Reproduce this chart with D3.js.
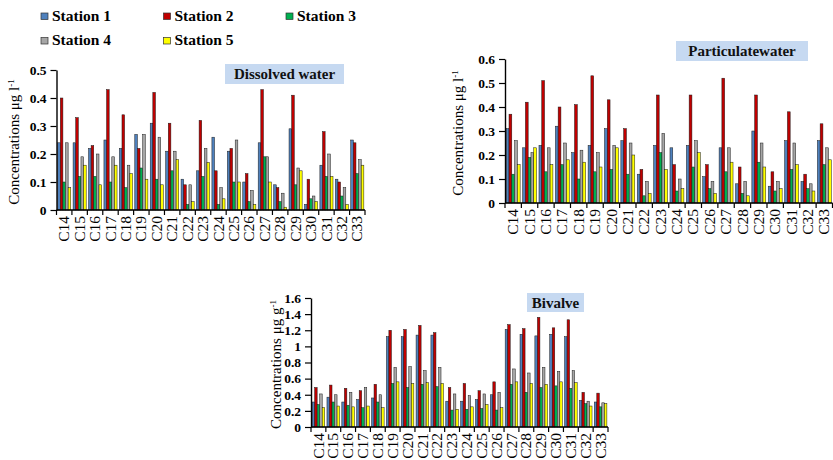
<!DOCTYPE html>
<html>
<head>
<meta charset="utf-8">
<script src="https://cdn.jsdelivr.net/npm/d3@7/dist/d3.min.js"></script>
<style>
  html, body { margin: 0; padding: 0; background: #fff; }
  svg { display: block; font-family: "Liberation Serif", "DejaVu Serif", serif; }
</style>
</head>
<body>
<svg id="chart" width="833" height="460"></svg>
<script>
// ---- data ----
const categories = ["C14","C15","C16","C17","C18","C19","C20","C21","C22","C23",
                    "C24","C25","C26","C27","C28","C29","C30","C31","C32","C33"];
const stations = ["Station 1","Station 2","Station 3","Station 4","Station 5"];

// Dissolved water, µg l-1 (one row per station)
const dissolved = [
  [0.24,0.24,0.22,0.25,0.22,0.27,0.31,0.21,0.11,0.14,0.26,0.21,0.10,0.24,0.09,0.29,0.02,0.16,0.11,0.25],
  [0.40,0.33,0.23,0.43,0.34,0.22,0.42,0.31,0.09,0.32,0.14,0.22,0.13,0.43,0.08,0.41,0.11,0.28,0.10,0.24],
  [0.10,0.12,0.12,0.10,0.08,0.15,0.11,0.14,0.02,0.12,0.02,0.10,0.03,0.19,0.03,0.09,0.04,0.12,0.05,0.13],
  [0.24,0.19,0.20,0.19,0.16,0.27,0.26,0.21,0.09,0.22,0.08,0.25,0.07,0.19,0.06,0.15,0.05,0.20,0.08,0.18],
  [0.08,0.16,0.09,0.16,0.13,0.11,0.09,0.18,0.03,0.17,0.04,0.10,0.02,0.10,0.01,0.14,0.03,0.12,0.02,0.16]
];

// Particulate water, µg l-1
const particulate = [
  [0.31,0.23,0.24,0.32,0.21,0.24,0.31,0.26,0.12,0.24,0.23,0.24,0.11,0.23,0.08,0.30,0.07,0.26,0.09,0.26],
  [0.37,0.42,0.51,0.40,0.41,0.53,0.43,0.31,0.14,0.45,0.16,0.45,0.16,0.52,0.15,0.45,0.13,0.38,0.12,0.33],
  [0.12,0.19,0.13,0.16,0.10,0.13,0.14,0.12,0.03,0.21,0.05,0.15,0.06,0.13,0.04,0.17,0.05,0.14,0.06,0.16],
  [0.26,0.21,0.23,0.25,0.22,0.21,0.24,0.25,0.09,0.29,0.10,0.26,0.09,0.23,0.09,0.25,0.09,0.25,0.08,0.23],
  [0.16,0.23,0.16,0.18,0.17,0.15,0.23,0.20,0.04,0.14,0.06,0.21,0.04,0.17,0.03,0.15,0.06,0.16,0.05,0.18]
];

// Bivalve, µg g-1
const bivalve = [
  [0.31,0.37,0.31,0.34,0.36,1.12,1.12,1.14,1.14,0.32,0.32,0.34,0.40,1.21,1.15,1.13,1.15,1.12,0.33,0.31],
  [0.49,0.52,0.48,0.45,0.53,1.20,1.21,1.26,1.17,0.49,0.54,0.45,0.56,1.27,1.22,1.36,1.23,1.33,0.43,0.42],
  [0.28,0.31,0.27,0.24,0.31,0.54,0.49,0.53,0.50,0.21,0.22,0.23,0.21,0.53,0.43,0.49,0.51,0.48,0.29,0.25],
  [0.41,0.40,0.43,0.49,0.40,0.74,0.75,0.70,0.74,0.41,0.39,0.41,0.43,0.72,0.67,0.74,0.69,0.70,0.32,0.30],
  [0.24,0.26,0.25,0.26,0.24,0.56,0.54,0.55,0.54,0.22,0.25,0.28,0.24,0.56,0.54,0.53,0.56,0.55,0.26,0.29]
];

const ticksWater = [0, 0.1, 0.2, 0.3, 0.4, 0.5];
const ticksParticulate = [0, 0.1, 0.2, 0.3, 0.4, 0.5, 0.6];
const ticksBivalve = [0, 0.2, 0.4, 0.6, 0.8, 1, 1.2, 1.4, 1.6];

// ---- styling ----
const stationColors = ["#4f81bd", "#c00000", "#00b050", "#a6a6a6", "#ffff00"];
const titleFill = "#c6d9f1";

const svg = d3.select("#chart");

const panels = [
  { values: dissolved, ticks: ticksWater, title: "Dissolved water", unit: "l",
    x: [56.5, 365], y: [210, 70], ytitleX: 14,
    box: { x: 225, y: 64, w: 119, h: 20 } },
  { values: particulate, ticks: ticksParticulate, title: "Particulatewater", unit: "l",
    x: [505, 832.5], y: [203, 59], ytitleX: 458,
    box: { x: 676, y: 41, w: 132, h: 20 } },
  { values: bivalve, ticks: ticksBivalve, title: "Bivalve", unit: "g",
    x: [311, 608], y: [427, 298], ytitleX: 276,
    box: { x: 527, y: 293, w: 57, h: 19 } }
];

panels.forEach(p => {
  const g = svg.append("g");
  const x0 = d3.scaleBand().domain(categories).range(p.x).padding(0);
  const bw = x0.bandwidth();
  const x1 = d3.scaleBand().domain(d3.range(stations.length))
    .range([bw * 0.075, bw * 0.925]).padding(0);
  const y = d3.scaleLinear().domain([0, d3.max(p.ticks)]).range(p.y);

  // bars
  const groups = g.append("g").selectAll("g")
    .data(categories)
    .join("g")
    .attr("transform", c => `translate(${x0(c)},0)`);

  groups.selectAll("rect")
    .data((c, ci) => p.values.map((row, si) => ({ si, v: row[ci] })))
    .join("rect")
    .attr("x", d => x1(d.si))
    .attr("width", x1.bandwidth())
    .attr("y", d => y(d.v))
    .attr("height", d => y(0) - y(d.v))
    .attr("fill", d => stationColors[d.si])
    .attr("stroke", "#1a1a1a")
    .attr("stroke-width", 0.5);

  // y axis
  const yAxis = g.append("g")
    .attr("transform", `translate(${p.x[0]},0)`)
    .call(d3.axisLeft(y).tickValues(p.ticks).tickSize(6).tickSizeOuter(0)
      .tickFormat(v => String(+v.toFixed(1))));
  yAxis.select(".domain").attr("stroke", "#000").attr("stroke-width", 1.4);
  yAxis.selectAll(".tick line").attr("stroke", "#000").attr("stroke-width", 1.2);
  yAxis.selectAll(".tick text")
    .attr("x", -10)
    .attr("font-family", "Liberation Serif, serif")
    .attr("font-weight", "bold")
    .attr("font-size", 13.5)
    .attr("fill", "#000");

  // x axis: baseline, boundary ticks and rotated category labels
  const xAxis = g.append("g").attr("transform", `translate(0,${p.y[0]})`);
  xAxis.append("line")
    .attr("x1", p.x[0]).attr("x2", p.x[1])
    .attr("stroke", "#000").attr("stroke-width", 1.4);
  xAxis.selectAll("line.tk")
    .data(categories.concat(["end"]))
    .join("line")
    .attr("class", "tk")
    .attr("x1", (c, i) => p.x[0] + i * bw)
    .attr("x2", (c, i) => p.x[0] + i * bw)
    .attr("y1", 0).attr("y2", 5)
    .attr("stroke", "#000").attr("stroke-width", 1.2);
  xAxis.selectAll("text")
    .data(categories)
    .join("text")
    .attr("transform", c => `translate(${x0(c) + bw / 2},6) rotate(-90)`)
    .attr("dy", "0.33em")
    .attr("text-anchor", "end")
    .attr("font-size", 15.5)
    .attr("fill", "#000")
    .text(c => c);

  // y title
  const yt = g.append("text")
    .attr("transform", `translate(${p.ytitleX},${(p.y[0] + p.y[1]) / 2 + 2}) rotate(-90)`)
    .attr("dy", "0.35em")
    .attr("text-anchor", "middle")
    .attr("font-size", 15)
    .attr("fill", "#000");
  yt.append("tspan").text(`Concentrations μg ${p.unit}`);
  yt.append("tspan").attr("font-size", 9).attr("dy", "-0.6em").text("-1");

  // panel title box
  g.append("rect")
    .attr("x", p.box.x).attr("y", p.box.y)
    .attr("width", p.box.w).attr("height", p.box.h)
    .attr("fill", titleFill);
  g.append("text")
    .attr("x", p.box.x + p.box.w / 2)
    .attr("y", p.box.y + p.box.h / 2)
    .attr("dy", "0.35em")
    .attr("text-anchor", "middle")
    .attr("font-weight", "bold")
    .attr("font-size", 15)
    .attr("fill", "#111")
    .text(p.title);
});

// ---- legend ----
const legendPos = [[41, 13], [163.5, 13], [286, 13], [41, 37.5], [163.5, 37.5]];
const legend = svg.append("g").selectAll("g")
  .data(stations)
  .join("g")
  .attr("transform", (s, i) => `translate(${legendPos[i][0]},${legendPos[i][1]})`);
legend.append("rect")
  .attr("width", 7).attr("height", 6.5)
  .attr("fill", (s, i) => stationColors[i])
  .attr("stroke", "#333").attr("stroke-width", 0.7);
legend.append("text")
  .attr("x", 11).attr("y", 7.5)
  .attr("font-weight", "bold")
  .attr("font-size", 15.5)
  .attr("fill", "#000")
  .text(s => s);
</script>
</body>
</html>
